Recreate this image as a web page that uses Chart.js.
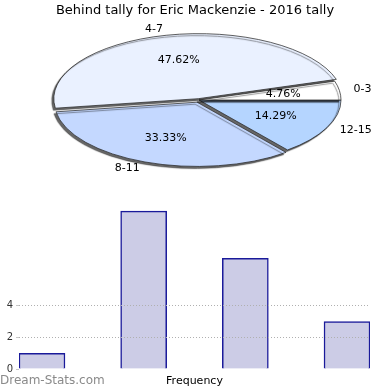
<!DOCTYPE html>
<html><head><meta charset="utf-8">
<script src="https://cdn.jsdelivr.net/npm/chart.js@4"></script>
<style>
html,body{margin:0;padding:0;background:#fff;width:390px;height:390px;overflow:hidden}
#p{position:absolute;left:0;top:0}
#b{position:absolute;left:0;top:190px}
</style></head><body>
<canvas id="p" width="390" height="190"></canvas>
<canvas id="b" width="390" height="200"></canvas>
<script>
const chartTitle = 'Behind tally for Eric Mackenzie - 2016 tally';
const categories = ['0-3', '4-7', '8-11', '12-15'];
const counts = [1, 10, 7, 3];
const percentLabels = ['4.76%', '47.62%', '33.33%', '14.29%'];
const sliceColors = ['#ffffff', '#eaf1ff', '#c4d8ff', '#b5d5ff'];
const sliceOffsets = [0, 12, 21, 0];
const yTickValues = [0, 2, 4];
const xTitle = 'Frequency';
const watermark = 'Dream-Stats.com';

const FONT = "'DejaVu Sans', sans-serif";
const CX = 199, CY = 100, RX = 142, K = 0.45;

// slices go counter-clockwise from east in the reference; Chart.js draws clockwise
const order = categories.map((_, i) => categories.length - 1 - i);

const ellipsePlugin = {
  id: 'ellipse',
  beforeDatasetsDraw(chart) {
    const a = chart.getDatasetMeta(0).data[0];
    const ctx = chart.ctx;
    ctx.save();
    ctx.translate(CX, CY);
    ctx.scale(1, K);
    ctx.translate(-a.x, -a.y);
    ctx.shadowColor = 'rgba(0,0,0,0.6)';
    ctx.shadowOffsetX = -2;
    ctx.shadowOffsetY = 2;
    ctx.shadowBlur = 1;
  },
  afterDatasetsDraw(chart) {
    const ctx = chart.ctx;
    ctx.restore();
    const meta = chart.getDatasetMeta(0);
    const RY = RX * K;
    ctx.save();
    ctx.fillStyle = '#000';
    ctx.textBaseline = 'middle';
    ctx.font = '11px ' + FONT;
    meta.data.forEach((arc, j) => {
      const i = order[j];
      const mid = (arc.startAngle + arc.endAngle) / 2;
      const c = Math.cos(mid), s = Math.sin(mid);
      const span = arc.endAngle - arc.startAngle;
      const d = (sliceOffsets[i] / 4) * (2 - Math.sin(Math.min(Math.PI, span)));
      const ox = c * d, oy = s * d * K;
      ctx.textAlign = 'center';
      ctx.fillText(percentLabels[i], CX + ox + RX * 0.6 * c, CY + oy + RY * 0.6 * s);
      ctx.textAlign = c >= 0 ? 'left' : 'right';
      ctx.fillText(categories[i], CX + ox + RX * 1.1 * c, CY + oy + RY * 1.1 * s);
    });
    ctx.restore();
  }
};

new Chart(document.getElementById('p'), {
  type: 'pie',
  data: {
    labels: order.map(i => categories[i]),
    datasets: [{
      data: order.map(i => counts[i]),
      backgroundColor: order.map(i => sliceColors[i]),
      offset: order.map(i => sliceOffsets[i]),
      borderColor: '#222',
      borderWidth: 1,
      radius: RX,
      clip: false
    }]
  },
  options: {
    responsive: false,
    animation: false,
    devicePixelRatio: 1,
    rotation: 90,
    events: [],
    plugins: {
      legend: { display: false },
      tooltip: { enabled: false },
      title: {
        display: true, text: chartTitle, color: '#000',
        font: { family: FONT, size: 13, weight: 'normal' },
        padding: { top: 3, bottom: 4 }
      }
    }
  },
  plugins: [ellipsePlugin]
});

const watermarkPlugin = {
  id: 'watermark',
  afterDraw(chart) {
    const ctx = chart.ctx;
    ctx.save();
    ctx.font = '12px ' + FONT;
    ctx.fillStyle = '#8a8a8a';
    ctx.textAlign = 'left';
    ctx.textBaseline = 'middle';
    ctx.fillText(watermark, 0, 191);
    ctx.restore();
  }
};

new Chart(document.getElementById('b'), {
  type: 'bar',
  data: {
    datasets: [{
      data: counts.map((v, i) => ({ x: i, y: v })),
      backgroundColor: '#ccccE6',
      borderColor: '#1a1a9a',
      borderWidth: 1.5,
      borderSkipped: 'bottom',
      barThickness: 46
    }]
  },
  options: {
    responsive: false,
    animation: false,
    devicePixelRatio: 1,
    events: [],
    layout: { padding: { top: 10, right: 20, left: 0, bottom: 0 } },
    plugins: { legend: { display: false }, tooltip: { enabled: false } },
    scales: {
      x: {
        type: 'linear', min: -0.226, max: 3.226, offset: false,
        afterFit: ax => { ax.height = 21; },
        ticks: { display: false },
        grid: { display: false, offset: false },
        border: { display: false },
        title: {
          display: true, text: xTitle, color: '#000',
          font: { family: FONT, size: 11 },
          padding: { top: 2, bottom: 2 }
        }
      },
      y: {
        min: 0, max: 10.7,
        afterBuildTicks: ax => { ax.ticks = yTickValues.map(v => ({ value: v })); },
        afterFit: ax => { ax.width = 19; },
        border: { display: false, dash: [1, 2] },
        grid: {
          z: 1,
          color: c => (c.tick && c.tick.value > 0) ? '#b0b0b0' : 'rgba(0,0,0,0)',
          lineWidth: 1,
          tickLength: 3,
          tickColor: '#c8c8c8'
        },
        ticks: { font: { family: FONT, size: 10 }, color: '#333', padding: 3 }
      }
    }
  },
  plugins: [watermarkPlugin]
});
</script>
</body></html>
